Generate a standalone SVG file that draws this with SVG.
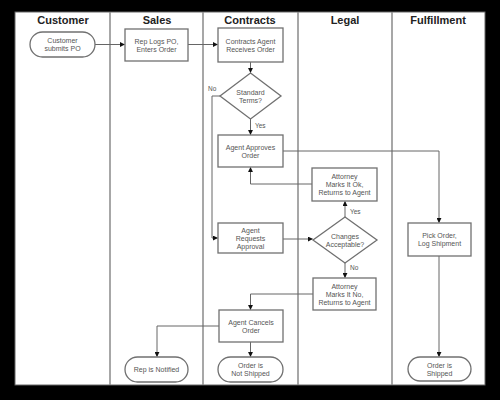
<svg xmlns="http://www.w3.org/2000/svg" width="500" height="400" viewBox="0 0 500 400">
<style>
.lane{stroke:#8a8a8a;stroke-width:1.5;fill:none}
.hdr{font:bold 11px "Liberation Sans",Arial,sans-serif;fill:#222;text-anchor:middle}
.box{fill:#fff;stroke:#707070;stroke-width:1.3}
.t{font:7px "Liberation Sans",Arial,sans-serif;fill:#555;text-anchor:middle}
.lbl{font:6.5px "Liberation Sans",Arial,sans-serif;fill:#555}
.c{fill:none;stroke:#666;stroke-width:1}
</style>
<defs>
<marker id="a" viewBox="0 0 6 6" refX="5.5" refY="3" markerWidth="5" markerHeight="5" orient="auto" markerUnits="userSpaceOnUse">
<path d="M0,0 L6,3 L0,6 z" fill="#111"/>
</marker>
</defs>
<rect x="0" y="0" width="500" height="400" fill="#000"/>
<rect x="15" y="12" width="470" height="373" fill="#fff" stroke="#666" stroke-width="1"/>
<g id="lanes">
<line class="lane" x1="110" y1="12" x2="110" y2="385"/>
<line class="lane" x1="203" y1="12" x2="203" y2="385"/>
<line class="lane" x1="298" y1="12" x2="298" y2="385"/>
<line class="lane" x1="392" y1="12" x2="392" y2="385"/>
<text class="hdr" x="63" y="24">Customer</text>
<text class="hdr" x="157" y="24">Sales</text>
<text class="hdr" x="250" y="24">Contracts</text>
<text class="hdr" x="345" y="24">Legal</text>
<text class="hdr" x="438" y="24">Fulfillment</text>
</g>
<g id="connectors">
<path class="c" d="M95,44.5 H124.5" marker-end="url(#a)"/>
<path class="c" d="M188,44.5 H217.5" marker-end="url(#a)"/>
<path class="c" d="M250.5,62 V72.5" marker-end="url(#a)"/>
<path class="c" d="M220,96 H212 V238 H217.5" marker-end="url(#a)"/>
<path class="c" d="M250.5,119 V134.5" marker-end="url(#a)"/>
<path class="c" d="M283,151 H439 V222.5" marker-end="url(#a)"/>
<path class="c" d="M312,184 H250.5 V167.5" marker-end="url(#a)"/>
<path class="c" d="M283,239 H312.5" marker-end="url(#a)"/>
<path class="c" d="M345,217 V201.5" marker-end="url(#a)"/>
<path class="c" d="M345,263 V277.5" marker-end="url(#a)"/>
<path class="c" d="M313,294 H250.5 V309.5" marker-end="url(#a)"/>
<path class="c" d="M219,326 H157 V356.5" marker-end="url(#a)"/>
<path class="c" d="M250.5,342 V356.5" marker-end="url(#a)"/>
<path class="c" d="M439,256 V356.5" marker-end="url(#a)"/>
<text class="lbl" x="208" y="91">No</text>
<text class="lbl" x="255" y="128">Yes</text>
<text class="lbl" x="350" y="214">Yes</text>
<text class="lbl" x="350" y="270">No</text>
</g>
<g id="customer-submits"><rect class="box" x="30" y="32" width="65" height="25" rx="12.5"/><text class="t" x="62.5" y="43">Customer</text><text class="t" x="62.5" y="51">submits PO</text></g>
<g id="rep-logs"><rect class="box" x="125" y="29" width="63" height="32"/><text class="t" x="156.5" y="43.5">Rep Logs PO,</text><text class="t" x="156.5" y="51.5">Enters Order</text></g>
<g id="agent-receives"><rect class="box" x="218" y="28" width="65" height="34"/><text class="t" x="250.5" y="43.5">Contracts Agent</text><text class="t" x="250.5" y="51.5">Receives Order</text></g>
<g id="standard-terms"><polygon class="box" points="250.5,73 281,96 250.5,119 220,96"/><text class="t" x="250.5" y="94.5">Standard</text><text class="t" x="250.5" y="102.5">Terms?</text></g>
<g id="agent-approves"><rect class="box" x="218" y="135" width="65" height="32"/><text class="t" x="250.5" y="149.5">Agent Approves</text><text class="t" x="250.5" y="157.5">Order</text></g>
<g id="attorney-ok"><rect class="box" x="312" y="168" width="65" height="33"/><text class="t" x="344.5" y="179">Attorney</text><text class="t" x="344.5" y="187">Marks It Ok,</text><text class="t" x="344.5" y="195">Returns to Agent</text></g>
<g id="changes-acceptable"><polygon class="box" points="345,217 377,240 345,263 313,240"/><text class="t" x="345" y="238.5">Changes</text><text class="t" x="345" y="246.5">Acceptable?</text></g>
<g id="agent-requests"><rect class="box" x="218" y="223" width="65" height="30"/><text class="t" x="250.5" y="232.5">Agent</text><text class="t" x="250.5" y="240.5">Requests</text><text class="t" x="250.5" y="248.5">Approval</text></g>
<g id="attorney-no"><rect class="box" x="313" y="278" width="63" height="32"/><text class="t" x="344.5" y="288.5">Attorney</text><text class="t" x="344.5" y="296.5">Marks It No,</text><text class="t" x="344.5" y="304.5">Returns to Agent</text></g>
<g id="agent-cancels"><rect class="box" x="219" y="310" width="64" height="32"/><text class="t" x="251" y="324.5">Agent Cancels</text><text class="t" x="251" y="332.5">Order</text></g>
<g id="pick-order"><rect class="box" x="408" y="223" width="63" height="33"/><text class="t" x="439.5" y="238">Pick Order,</text><text class="t" x="439.5" y="246">Log Shipment</text></g>
<g id="rep-notified"><rect class="box" x="125" y="357" width="63" height="25" rx="12.5"/><text class="t" x="156.5" y="372">Rep is Notified</text></g>
<g id="not-shipped"><rect class="box" x="218" y="357" width="65" height="25" rx="12.5"/><text class="t" x="250.5" y="368">Order is</text><text class="t" x="250.5" y="376">Not Shipped</text></g>
<g id="shipped"><rect class="box" x="408" y="357" width="63" height="24" rx="12"/><text class="t" x="439.5" y="367.5">Order is</text><text class="t" x="439.5" y="375.5">Shipped</text></g>
</svg>
